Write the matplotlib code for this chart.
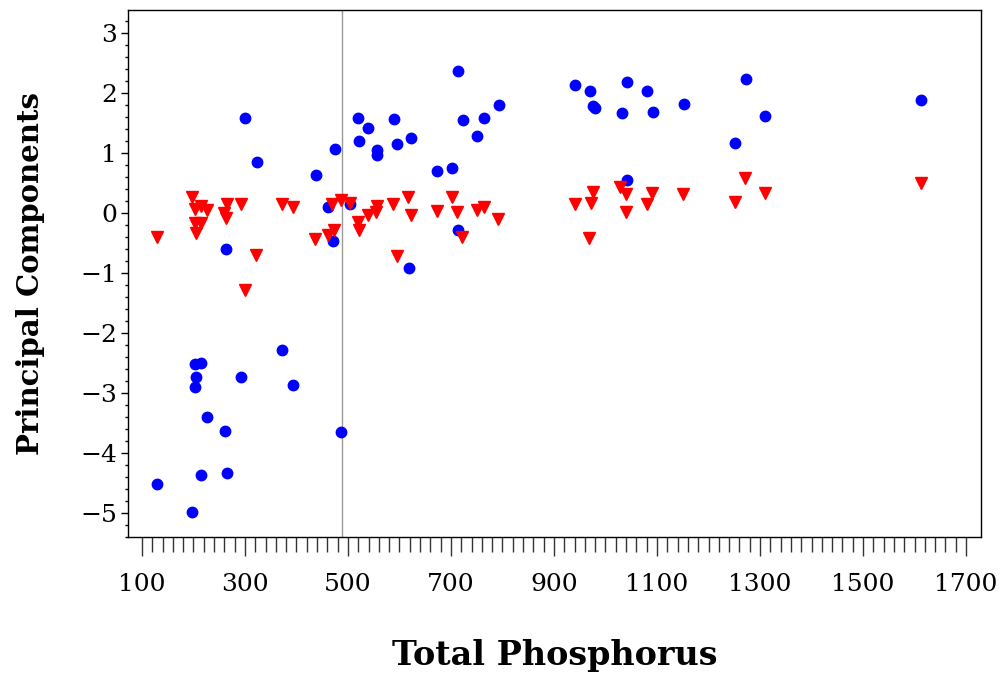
import matplotlib
matplotlib.use("Agg")
import matplotlib.pyplot as plt
from matplotlib.ticker import MultipleLocator, FixedLocator

# First principal component vs total phosphorus
tp_pc1 = [300, 323, 437, 475, 519, 539, 521, 557, 556, 462, 503, 470, 264,
          372, 203, 215, 205, 203, 292, 394, 226, 261, 486, 214, 266, 130,
          198, 713, 794, 723, 765, 751, 589, 595, 623, 673, 701, 713, 618,
          941, 970, 1042, 1081, 975, 979, 1032, 1092, 1152, 1272, 1310, 1252,
          1042, 1612]
pc1 = [1.58, 0.85, 0.63, 1.07, 1.58, 1.42, 1.19, 1.05, 0.97, 0.10, 0.15,
       -0.47, -0.61, -2.29, -2.52, -2.51, -2.73, -2.90, -2.73, -2.87, -3.41,
       -3.64, -3.65, -4.37, -4.34, -4.52, -4.99, 2.37, 1.79, 1.55, 1.58, 1.28,
       1.56, 1.14, 1.24, 0.69, 0.75, -0.28, -0.92, 2.13, 2.03, 2.18, 2.03,
       1.78, 1.75, 1.67, 1.68, 1.82, 2.23, 1.62, 1.16, 0.54, 1.88]

# Second principal component vs total phosphorus
tp_pc2 = [130, 197, 203, 214, 226, 202, 214, 205, 259, 264, 266, 292, 321,
          300, 371, 394, 436, 462, 473, 469, 486, 503, 519, 521, 538, 557,
          554, 588, 595, 617, 623, 672, 701, 712, 722, 751, 765, 792, 941,
          972, 976, 968, 1029, 1040, 1040, 1081, 1091, 1151, 1252, 1271, 1309,
          1612]
pc2 = [-0.40, 0.26, 0.06, 0.11, 0.05, -0.17, -0.17, -0.34, 0.00, -0.08, 0.15,
       0.15, -0.71, -1.28, 0.15, 0.10, -0.43, -0.37, -0.28, 0.15, 0.22, 0.17,
       -0.15, -0.28, -0.03, 0.11, 0.01, 0.14, -0.72, 0.27, -0.03, 0.03, 0.27,
       0.02, -0.40, 0.05, 0.10, -0.11, 0.14, 0.17, 0.35, -0.42, 0.43, 0.31,
       0.02, 0.14, 0.33, 0.32, 0.18, 0.58, 0.33, 0.50]

ref_x = 488
xticks = list(range(100, 1701, 200))
xminor = list(range(100, 1701, 20))

plt.rcParams["font.family"] = ["DejaVu Serif"]

fig = plt.figure(figsize=(10.06, 6.77), dpi=100)
ax = fig.add_axes([0.1272, 0.2072, 0.8479, 0.778])

ax.axvline(ref_x, color="#9a9a9a", linewidth=1.0, zorder=1)
ax.plot(tp_pc1, pc1, "o", color="#0000ff", markersize=7.5, linestyle="none",
        zorder=3)
ax.plot(tp_pc2, pc2, "v", color="#ff0000", markersize=8, linestyle="none",
        zorder=3)

ax.set_xlim(72.8, 1729)
ax.set_ylim(-5.40, 3.38)

ax.set_xticks(xticks)
ax.xaxis.set_minor_locator(FixedLocator(xminor))
ax.yaxis.set_major_locator(MultipleLocator(1))
ax.yaxis.set_minor_locator(MultipleLocator(0.2))

ax.tick_params(axis="x", which="major", length=14, width=1, pad=12,
               labelsize=18, color="#333333")
ax.tick_params(axis="x", which="minor", length=11, width=1, color="#333333")
ax.tick_params(axis="y", which="major", length=5, width=1, pad=3,
               labelsize=18)
ax.tick_params(axis="y", which="minor", length=2.5, width=1)

for s in ax.spines.values():
    s.set_linewidth(1.0)
    s.set_color("black")

fig.text(0.5512, 0.032, "Total Phosphorus", ha="center", va="center",
         fontsize=24, fontweight="bold")
fig.text(0.03, 0.596, "Principal Components", ha="center", va="center",
         rotation=90, fontsize=21, fontweight="bold")

fig.savefig("out.png", dpi=100)
